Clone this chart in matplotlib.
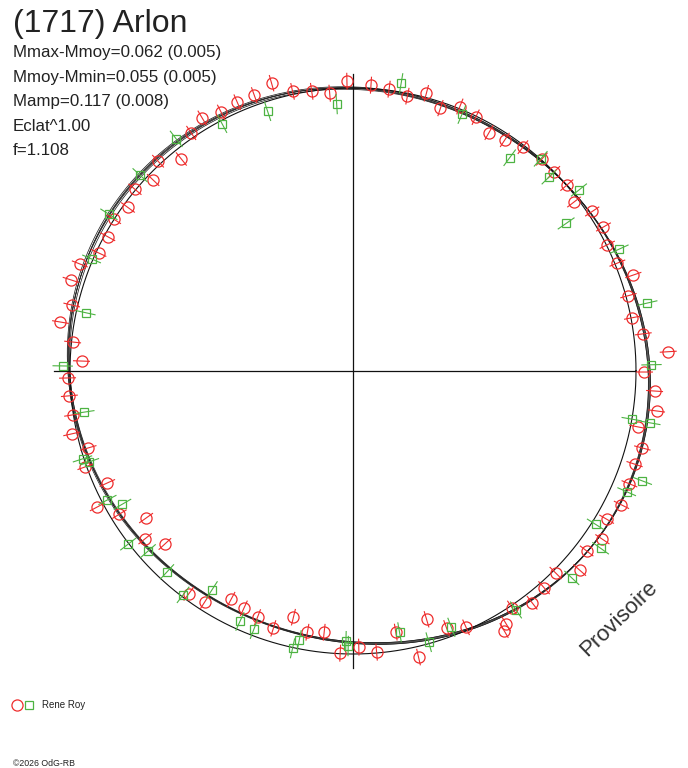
import numpy as np
import matplotlib
matplotlib.use('Agg')
import matplotlib.pyplot as plt
from matplotlib.collections import LineCollection

plt.rcParams['font.family'] = ['Liberation Sans', 'DejaVu Sans']

# observations: rotational phase angle (deg) and relative radius (brightness)
red_ang = [109.7, 105.8, 102.2, 98.4, 94.8, 91.2, 86.4, 82.7, 78.8, 75.2, 71.6,
           113.3, 117.0, 120.8, 124.2, 129.0, 132.9, 136.3, 140.2, 144.0, 147.6,
           151.3, 155.1, 158.6, 162.1, 166.8, 170.5, 174.1, 177.9, 181.4, 185.0,
           188.9, 192.6, 196.2, 199.7, 204.5, 208.0, 211.5, 215.4, 218.9, 222.6,
           233.6, 237.3, 241.9, 245.3, 248.8, 252.8, 256.4, 260.1, 263.7, 267.4,
           271.2, 274.8, 279.3, 282.9, 286.5, 290.0, 293.8, 300.2, 301.2, 303.9,
           307.7, 311.4, 315.1, 318.7, 322.4, 326.0, 329.7, 333.5, 337.8, 341.7,
           345.1, 348.9, 352.5, 356.2, 359.8, 3.5, 7.3, 10.8, 15.3, 18.9,
           22.2, 26.4, 29.9, 33.7, 37.4, 41.0, 44.7, 48.3, 52.8, 56.7,
           60.3, 64.2, 68.0]
red_r = [1.035, 1.057, 1.011, 0.999, 0.985, 1.024, 1.012, 1.004, 0.990, 1.015, 0.979,
         1.034, 1.026, 1.041, 1.017, 0.964, 1.012, 0.977, 1.003, 0.983, 1.001,
         0.988, 0.991, 1.037, 1.048, 1.021, 1.048, 0.996, 0.960, 1.009, 1.006,
         1.003, 1.019, 0.974, 1.004, 0.954, 1.023, 0.968, 0.897, 0.944, 0.903,
         0.978, 0.969, 0.915, 0.923, 0.933, 0.952, 0.895, 0.937, 0.929, 0.998,
         0.976, 0.997, 0.935, 1.037, 0.915, 0.967, 0.990, 1.061, 1.044, 1.008,
         1.035, 1.021, 1.011, 1.066, 1.042, 1.063, 1.038, 1.060, 1.055, 1.048,
         1.058, 1.025, 1.082, 1.068, 1.030, 1.116, 1.034, 1.005, 1.009, 1.047,
         1.009, 1.003, 1.021, 1.016, 0.983, 1.001, 0.999, 1.003, 0.993, 0.977,
         0.970, 0.996, 1.008]

green_ang = [108.2, 93.5, 80.5, 117.9, 127.3, 137.4, 147.3, 156.8, 167.7, 179.0,
             188.7, 198.0, 199.0, 207.7, 210.0, 217.6, 221.3, 227.2, 232.8, 237.2,
             245.7, 249.0, 257.7, 258.7, 268.5, 269.0, 280.1, 285.6, 291.0, 304.3,
             316.6, 324.4, 327.7, 336.2, 339.2, 350.1, 350.2, 1.2, 13.0, 24.6,
             34.7, 38.7, 44.7, 48.5, 53.7, 67.0]
green_r = [0.966, 0.945, 1.031, 0.988, 1.031, 1.022, 1.025, 1.005, 0.967, 1.026,
           0.960, 1.005, 0.985, 0.980, 0.941, 1.002, 0.964, 0.967, 0.993, 0.920,
           0.971, 0.978, 1.003, 0.970, 0.955, 0.972, 0.938, 0.995, 0.970, 1.022,
           1.064, 1.076, 1.014, 1.057, 1.094, 1.067, 0.999, 1.055, 1.068, 1.035,
           0.916, 1.023, 0.974, 1.001, 0.935, 0.985]

# Fourier fits (a0, a1, b1, a2, b2, a3, b3), several solutions
fits = [[0.0024, 0.0207, 0.0154, 0.0229, -0.0269, 0.0002, -0.0044],
        [0.0005, 0.0232, 0.0135, 0.0245, -0.0250, 0.0015, -0.0055],
        [0.0042, 0.0185, 0.0175, 0.0210, -0.0285, -0.0010, -0.0032],
        [0.0018, 0.0220, 0.0170, 0.0240, -0.0280, 0.0020, -0.0038],
        [0.0034, 0.0195, 0.0140, 0.0215, -0.0258, -0.0015, -0.0056]]

title = '(1717) Arlon'
stats = ['Mmax-Mmoy=0.062 (0.005)', 'Mmoy-Mmin=0.055 (0.005)',
         'Mamp=0.117 (0.008)', 'Eclat^1.00', 'f=1.108']
observer = 'Rene Roy'

RED = '#ee2c2c'
GREEN = '#4db342'
W, H = 688, 768
cx, cy, R = 353, 371, 283.0

fig = plt.figure(figsize=(W / 100, H / 100), dpi=100)
ax = fig.add_axes([0, 0, 1, 1])
ax.set_xlim(-cx / R, (W - cx) / R)
ax.set_ylim(-(H - cy) / R, cy / R)
ax.axis('off')

th = np.linspace(0, 2 * np.pi, 721)
for c in fits:
    r = (1 + c[0] + c[1] * np.cos(th) + c[2] * np.sin(th) + c[3] * np.cos(2 * th)
         + c[4] * np.sin(2 * th) + c[5] * np.cos(3 * th) + c[6] * np.sin(3 * th))
    ax.plot(r * np.cos(th), r * np.sin(th), color='#222222', lw=0.55)
ax.plot(np.cos(th), np.sin(th), color='#111111', lw=0.8)

ax.plot([-1.055, 1.0], [0, 0], color='#111111', lw=0.9)
ax.plot([0, 0], [-1.05, 1.05], color='#111111', lw=0.9)


def draw(ang, rr, col, err, marker, ms):
    a = np.radians(ang)
    rr = np.array(rr)
    segs = [[((r - err) * np.cos(t), (r - err) * np.sin(t)),
             ((r + err) * np.cos(t), (r + err) * np.sin(t))] for t, r in zip(a, rr)]
    ax.add_collection(LineCollection(segs, colors=col, lw=0.8))
    ax.plot(rr * np.cos(a), rr * np.sin(a), ls='none', marker=marker, ms=ms,
            mfc='none', mec=col, mew=0.9)


draw(red_ang, red_r, RED, 0.03, 'o', 8)
draw(green_ang, green_r, GREEN, 0.036, 's', 5.8)

fig.text(13 / W, 1 - 32 / H, title, fontsize=23, color='#222222', va='baseline')
for i, s in enumerate(stats):
    fig.text(13 / W, 1 - (57 + 24.6 * i) / H, s, fontsize=12.2, color='#222222',
             va='baseline')

fig.text(619 / W, 1 - 619 / H, 'Provisoire', fontsize=16, color='#333333',
         rotation=44, ha='center', va='center', rotation_mode='anchor')

# legend at bottom
fig.lines.append(plt.Line2D([16.5 / W], [1 - 705 / H], marker='o', ms=8, mfc='none',
                            mec=RED, mew=0.9, transform=fig.transFigure))
fig.lines.append(plt.Line2D([29 / W], [1 - 705 / H], marker='s', ms=5.8, mfc='none',
                            mec=GREEN, mew=0.9, transform=fig.transFigure))
fig.text(42 / W, 1 - 705 / H, observer, fontsize=7, color='#222222', va='center')
fig.text(13 / W, 1 - 763 / H, '\u00a92026 OdG-RB', fontsize=6.3, color='#222222',
         va='center')

fig.savefig('out.png', dpi=100)
